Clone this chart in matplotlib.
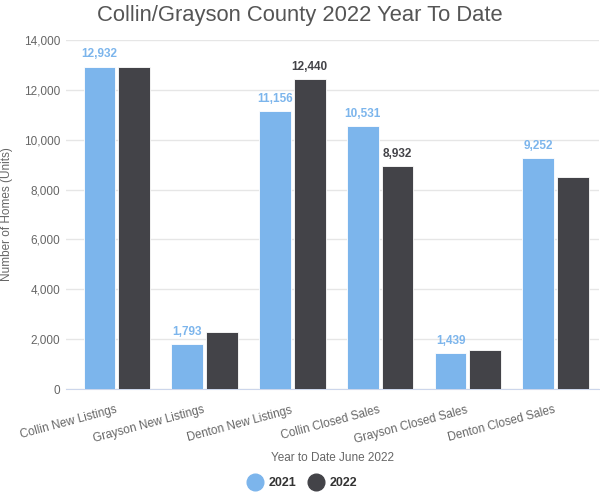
import numpy as np
import matplotlib.pyplot as plt
import matplotlib.transforms as mtransforms
from matplotlib.lines import Line2D

plt.rcParams["font.family"] = ["Liberation Sans", "DejaVu Sans"]

categories = ["Collin New Listings", "Grayson New Listings", "Denton New Listings",
              "Collin Closed Sales", "Grayson Closed Sales", "Denton Closed Sales"]
y2021 = [12932, 1793, 11156, 10531, 1439, 9252]
y2022 = [12920, 2280, 12440, 8932, 1575, 8520]
# which bars show a value label in the original
show2021 = [True, True, True, True, True, True]
show2022 = [False, False, True, True, False, False]

c2021 = "#7cb5ec"
c2022 = "#434348"

fig = plt.figure(figsize=(6, 5), dpi=100)
ax = fig.add_axes([66 / 600, 111 / 500, 533 / 600, 349 / 500])

x = np.arange(len(categories))
w = 0.36
off = 0.198
b1 = ax.bar(x - off, y2021, w, color=c2021, edgecolor="white", linewidth=0.6, zorder=3)
b2 = ax.bar(x + off, y2022, w, color=c2022, edgecolor="white", linewidth=0.6, zorder=3)

for rect, v, s in zip(b1, y2021, show2021):
    if s:
        ax.text(rect.get_x() + rect.get_width() / 2, v + 250, f"{v:,}", ha="center", va="bottom",
                fontsize=8.5, fontweight="bold", color=c2021)
for rect, v, s in zip(b2, y2022, show2022):
    if s:
        ax.text(rect.get_x() + rect.get_width() / 2, v + 250, f"{v:,}", ha="center", va="bottom",
                fontsize=8.5, fontweight="bold", color=c2022)

ax.set_xlim(-0.58, 5.494)
ax.set_ylim(0, 14000)
ax.set_yticks(np.arange(0, 14001, 2000))
ax.set_yticklabels([f"{t:,}" for t in range(0, 14001, 2000)])
ax.yaxis.grid(True, color="#e6e6e6", linewidth=1, zorder=0)
ax.set_axisbelow(True)
for sp in ["top", "right", "left"]:
    ax.spines[sp].set_visible(False)
ax.spines["bottom"].set_color("#ccd6eb")
ax.tick_params(axis="y", length=0, colors="#666666", labelsize=8.5, pad=4)
ax.tick_params(axis="x", length=0, colors="#666666", labelsize=8.5, pad=8)

ax.set_xticks(x)
ax.set_xticklabels(categories, rotation=15, ha="right", rotation_mode="anchor")
shift = mtransforms.ScaledTranslation(-2 / 100, -4 / 100, fig.dpi_scale_trans)
for lab in ax.get_xticklabels():
    lab.set_transform(lab.get_transform() + shift)

ax.set_ylabel("Number of Homes (Units)", color="#666666", fontsize=8.5)
ax.yaxis.set_label_coords((13 - 66) / 533, 0.5)
ax.set_xlabel("Year to Date June 2022", color="#666666", fontsize=8.5, labelpad=4)

fig.suptitle("Collin/Grayson County 2022 Year To Date", fontsize=15.8, color="#555555", y=0.99)

handles = [Line2D([], [], marker="o", linestyle="", markersize=12, color=c2021),
           Line2D([], [], marker="o", linestyle="", markersize=12, color=c2022)]
leg = fig.legend(handles, ["2021", "2022"], loc="center", bbox_to_anchor=(0.5, 17 / 500),
                 ncol=2, frameon=False, handletextpad=0.05, columnspacing=0.6,
                 prop={"weight": "bold", "size": 9})
for t in leg.get_texts():
    t.set_color("#333333")

fig.savefig("out.png", dpi=100)
